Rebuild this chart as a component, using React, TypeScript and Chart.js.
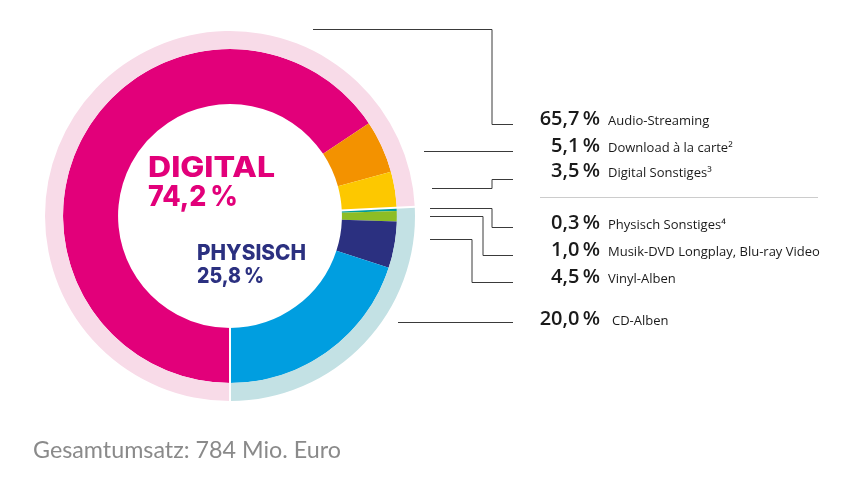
import React, { useEffect, useRef } from "react";
import { Chart, registerables } from "chart.js";
Chart.register(...registerables);

// ---- data ----
const groupLabels = ["DIGITAL", "PHYSISCH"];
const groupValues = [74.2, 25.8];
const groupColors = ["#f8dbe8", "#c3e1e4"];
const groupTextColors = ["#e2007a", "#2b3080"];

const segmentLabels = [
  "Audio-Streaming",
  "Download à la carte²",
  "Digital Sonstiges³",
  "Physisch Sonstiges⁴",
  "Musik-DVD Longplay, Blu-ray Video",
  "Vinyl-Alben",
  "CD-Alben",
];
const segmentValues = [65.7, 5.1, 3.5, 0.3, 1.0, 4.5, 20.0];
const segmentColors = ["#e2007a", "#f39200", "#fdc800", "#009c9a", "#8dbd25", "#2b3080", "#009ee0"];
const totalLabel = "Gesamtumsatz: 784 Mio. Euro";

// ---- layout (annotation geometry) ----
const legendBaselines = [125, 152, 177, 229, 256, 283, 325];
const leaderPaths: number[][][] = [
  [[313, 29], [492, 29], [492, 124], [513, 124]],
  [[424, 151], [513, 151]],
  [[432, 188], [492, 188], [492, 179], [513, 179]],
  [[430, 208], [492, 208], [492, 227], [513, 227]],
  [[430, 216], [483, 216], [483, 255], [513, 255]],
  [[430, 239], [472, 239], [472, 282], [513, 282]],
  [[398, 322], [513, 322]],
];

const fmt = (v: number) => v.toFixed(1).replace(".", ",") + "\u2009%";

function fitText(ctx: CanvasRenderingContext2D, text: string, x: number, y: number, w: number) {
  const m = ctx.measureText(text).width;
  ctx.save();
  ctx.translate(x, y);
  ctx.scale(w / m, 1);
  ctx.fillText(text, 0, 0);
  ctx.restore();
}

const overlayPlugin = {
  id: "overlay",
  afterDatasetsDraw(chart: any) {
    const ctx = chart.ctx as CanvasRenderingContext2D;
    const outer = chart.getDatasetMeta(0).data as any[];
    const inner = chart.getDatasetMeta(1).data as any[];
    if (!outer.length || !inner.length) return;
    const rIn = inner[0].innerRadius;
    const rOut = outer[0].outerRadius;
    ctx.save();
    ctx.strokeStyle = "#ffffff";
    ctx.lineWidth = 2;
    outer.forEach((a: any) => {
      const ang = a.startAngle;
      ctx.beginPath();
      ctx.moveTo(a.x + Math.cos(ang) * (rIn - 1), a.y + Math.sin(ang) * (rIn - 1));
      ctx.lineTo(a.x + Math.cos(ang) * (rOut + 1), a.y + Math.sin(ang) * (rOut + 1));
      ctx.stroke();
    });
    ctx.restore();
  },
  afterDraw(chart: any) {
    const ctx = chart.ctx as CanvasRenderingContext2D;
    ctx.save();
    // center texts
    ctx.textAlign = "left";
    ctx.textBaseline = "alphabetic";
    ctx.fillStyle = groupTextColors[0];
    ctx.font = "800 28px Inter";
    fitText(ctx, groupLabels[0], 148, 177, 127);
    fitText(ctx, fmt(groupValues[0]), 148, 206, 90);
    ctx.fillStyle = groupTextColors[1];
    ctx.font = "800 21px Inter";
    fitText(ctx, groupLabels[1], 197, 260, 109);
    fitText(ctx, fmt(groupValues[1]), 197, 283, 67);

    // leader lines
    ctx.strokeStyle = "#3a3a3a";
    ctx.lineWidth = 1;
    leaderPaths.forEach((p) => {
      ctx.beginPath();
      p.forEach(([x, y], i) => {
        if (i === 0) ctx.moveTo(x, y + 0.5);
        else ctx.lineTo(x, y + 0.5);
      });
      ctx.stroke();
    });

    // separator
    ctx.strokeStyle = "#cccccc";
    ctx.beginPath();
    ctx.moveTo(540, 197.5);
    ctx.lineTo(818, 197.5);
    ctx.stroke();

    // legend
    segmentLabels.forEach((lab, i) => {
      const y = legendBaselines[i];
      ctx.fillStyle = "#1a1a1a";
      ctx.textAlign = "right";
      ctx.font = "600 20px 'Open Sans'";
      ctx.fillText(fmt(segmentValues[i]), 600, y);
      ctx.textAlign = "left";
      ctx.font = "400 13px 'Open Sans'";
      ctx.fillText(lab, i === 6 ? 612 : 608, y);
    });

    // footer
    ctx.fillStyle = "#8a8a8a";
    ctx.font = "400 23.3px Lato";
    ctx.textAlign = "left";
    ctx.fillText(totalLabel, 33, 458);
    ctx.restore();
  },
};

export default function App() {
  const ref = useRef<HTMLCanvasElement | null>(null);
  useEffect(() => {
    if (!ref.current) return;
    const chart = new Chart(ref.current, {
      type: "doughnut",
      data: {
        labels: segmentLabels,
        datasets: [
          {
            data: groupValues,
            backgroundColor: groupColors,
            borderWidth: 0,
            weight: 18,
          } as any,
          {
            data: segmentValues,
            backgroundColor: segmentColors,
            borderWidth: 0,
            weight: 55,
          } as any,
        ],
      },
      options: {
        responsive: false,
        animation: false,
        rotation: 180,
        cutout: "60.5%",
        layout: { padding: { left: 45, right: 435, top: 31, bottom: 78 } },
        plugins: { legend: { display: false }, tooltip: { enabled: false } },
        events: [],
      },
      plugins: [overlayPlugin],
    });
    return () => chart.destroy();
  }, []);
  return (
    <div style={{ position: "fixed", left: 0, top: 0, width: 850, height: 479, background: "#fff" }}>
      <canvas ref={ref} width={850} height={479} style={{ width: 850, height: 479, display: "block" }} />
    </div>
  );
}
